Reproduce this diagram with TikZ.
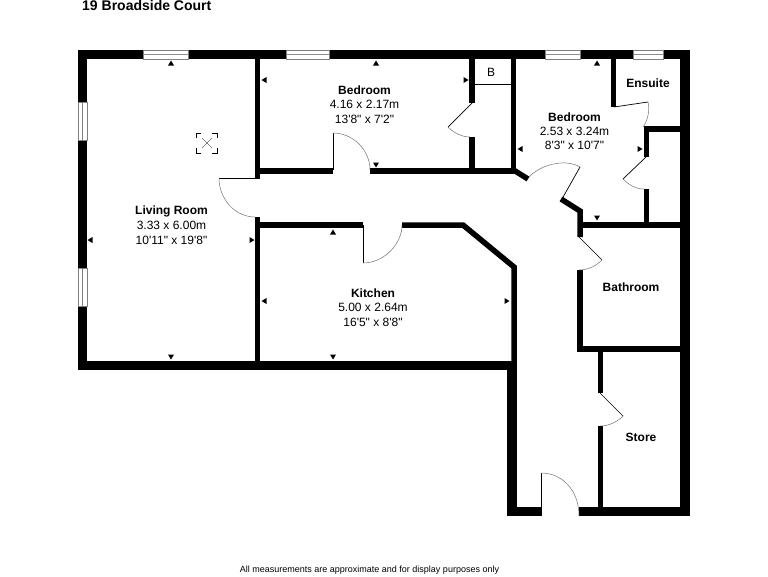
\documentclass[tikz,border=0pt]{standalone}
\usepackage{fontspec}
\newfontfamily\planfont{Liberation Sans}

\tikzset{
	outerwall/.style={line width=9.5pt,line join=miter},
	innerwall/.style={line width=5.5pt,line join=miter},
	doorleaf/.style={line width=0.7pt},
	doorswing/.style={line width=0.5pt,draw=black!55},
	windowpane/.style={fill=white,draw=black!50,line width=0.7pt},
	windowbar/.style={draw=black!45,line width=1.2pt},
	roomname/.style={font=\planfont\bfseries\fontsize{12}{14}\selectfont,inner sep=0pt},
	roomsize/.style={font=\planfont\fontsize{12}{14}\selectfont,inner sep=0pt}
}

\begin{document}
\begin{tikzpicture}[x=1pt,y=-1pt]
	\useasboundingbox[fill=white] (0,0) rectangle (768,576);

	% outside walls
	\draw[outerwall] (541,511.5) -- (512,511.5) -- (512,365.5) -- (82.5,365.5) -- (82.5,54.5)
	  -- (685,54.5) -- (685,511.5) -- (579,511.5);

	% walls between rooms
	\draw[innerwall] (257.5,59) -- (257.5,179);
	\draw[innerwall] (257.5,217) -- (257.5,361);
	\draw[innerwall] (260,171) -- (333,171);
	\draw[innerwall] (370,171) -- (513.5,171) -- (513.5,59);
	\draw[innerwall] (472,59) -- (472,103);
	\draw[innerwall] (472,137) -- (472,171);
	\draw[innerwall] (513.5,170) -- (528,179);
	\draw[innerwall] (561,199) -- (580,211) -- (580,237);
	\draw[innerwall] (580,225) -- (680,225);
	\draw[innerwall] (580,270) -- (580,349) -- (680,349);
	\draw[innerwall] (600.5,352) -- (600.5,393);
	\draw[innerwall] (600.5,426) -- (600.5,507);
	\draw[innerwall] (613.5,59) -- (613.5,107);
	\draw[innerwall] (680,129) -- (646.5,129) -- (646.5,157);
	\draw[innerwall] (646.5,189) -- (646.5,222);
	\draw[innerwall] (260,225) -- (363,225);
	\draw[innerwall] (402,225) -- (463,225) -- (514,267) -- (514,361);

	% cupboard
	\draw[line width=0.7pt] (475,84) -- (511,84);
	\node[roomsize] (boiler) at (491,72.5) {B};

	% doors
	\draw[doorleaf] (255,178) -- (219,178);
	\draw[doorswing] (219,178) .. controls (219,199) and (235,217) .. (255,217);
	\draw[doorleaf] (333,170) -- (333,133);
	\draw[doorswing] (333,133) .. controls (353,133) and (370,150) .. (370,170);
	\draw[doorleaf] (363,225) -- (363,263);
	\draw[doorswing] (363,263) .. controls (384,263) and (402,244) .. (402,225);
	\draw[doorleaf] (472,103) -- (448,127);
	\draw[doorswing] (448,127) .. controls (454,133) and (462,137) .. (470,137);
	\draw[doorleaf] (580,167) -- (562,199);
	\draw[doorswing] (529,177) .. controls (540,165) and (565,158) .. (580,167);
	\draw[doorleaf] (614,107) -- (648,102);
	\draw[doorswing] (648,102) .. controls (650,110) and (648,120) .. (643,127);
	\draw[doorleaf] (646,157) -- (623,179);
	\draw[doorswing] (623,179) .. controls (629,185) and (636,189) .. (644,189);
	\draw[doorleaf] (579,237) -- (602,260);
	\draw[doorswing] (602,260) .. controls (596,266) and (588,270) .. (579,270);
	\draw[doorleaf] (600,393) -- (623,416);
	\draw[doorswing] (623,416) .. controls (617,422) and (609,426) .. (600,426);
	\draw[doorleaf] (541,516) -- (541,473);
	\draw[doorswing] (541,473) .. controls (562,473) and (579,490) .. (579,516);

	% windows
	\foreach \xa/\xb in {143/188,286/329,545/580,633/663} {
	  \draw[windowpane] (\xa,50) rectangle (\xb,59);
	  \draw[windowbar] (\xa,54.5) -- (\xb,54.5);
	}
	\foreach \ya/\yb in {102/140,268/306} {
	  \draw[windowpane] (78,\ya) rectangle (87,\yb);
	  \draw[draw=black!50,line width=0.7pt] (82.5,\ya) -- (82.5,\yb);
	}

	% roof light
	\foreach \cx/\cy/\sx/\sy in {196/133/1/1,217/133/-1/1,196/153/1/-1,217/153/-1/-1} {
	  \draw[line width=0.5pt] (\cx+5*\sx,\cy) -- (\cx,\cy) -- (\cx,\cy+5*\sy);
	}
	\draw[line width=0.3pt] (202,138) -- (212,148);
	\draw[line width=0.3pt] (212,138) -- (202,148);

	% measuring marks
	\foreach \mx/\my in {171/63,376/63,597/63,333/232} {
	  \fill[shift={(\mx,\my)}] (-3,2.5) -- (3,2.5) -- (0,-2.5) -- cycle;
	}
	\foreach \mx/\my in {171/357,376/165,597/218,333/357} {
	  \fill[shift={(\mx,\my)}] (-3,-2.5) -- (3,-2.5) -- (0,2.5) -- cycle;
	}
	\foreach \mx/\my in {90/240,264/80,520/149,264/301} {
	  \fill[shift={(\mx,\my)}] (2.5,-3) -- (2.5,3) -- (-2.5,0) -- cycle;
	}
	\foreach \mx/\my in {252/240,466/80,640/149,507/301} {
	  \fill[shift={(\mx,\my)}] (-2.5,-3) -- (-2.5,3) -- (2.5,0) -- cycle;
	}

	% labels
	\node[anchor=west,inner sep=0pt,font=\planfont\bfseries\fontsize{14}{16}\selectfont] (title) at (82,5) {19 Broadside Court};
	\node[roomname] (living) at (171.5,211) {Living Room};
	\node[roomsize] (living_m) at (171.5,225.5) {3.33 x 6.00m};
	\node[roomsize] (living_ft) at (171.5,240) {10'11" x 19'8"};
	\node[roomname] (bed_one) at (364.5,90) {Bedroom};
	\node[roomsize] (bed_one_m) at (364.5,104.5) {4.16 x 2.17m};
	\node[roomsize] (bed_one_ft) at (364.5,119) {13'8" x 7'2"};
	\node[roomname] (bed_two) at (574.5,117) {Bedroom};
	\node[roomsize] (bed_two_m) at (574.5,131) {2.53 x 3.24m};
	\node[roomsize] (bed_two_ft) at (574.5,145.5) {8'3" x 10'7"};
	\node[roomname] (ensuite) at (648,83) {Ensuite};
	\node[roomname] (kitchen) at (373,293) {Kitchen};
	\node[roomsize] (kitchen_m) at (373,307.5) {5.00 x 2.64m};
	\node[roomsize] (kitchen_ft) at (373,322) {16'5" x 8'8"};
	\node[roomname] (bathroom) at (631,287) {Bathroom};
	\node[roomname] (store) at (641,437) {Store};
	\node[inner sep=0pt,font=\planfont\fontsize{9}{11}\selectfont] (footer) at (369.5,570) {All measurements are approximate and for display purposes only};
\end{tikzpicture}
\end{document}
